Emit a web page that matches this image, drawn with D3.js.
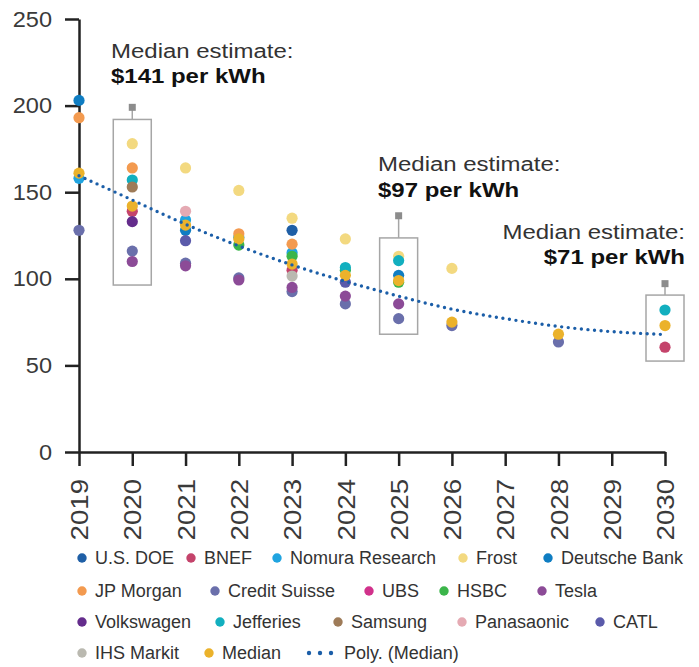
<!DOCTYPE html>
<html>
<head>
<meta charset="utf-8">
<script src="https://cdn.jsdelivr.net/npm/d3@7"></script>
<style>
  body { margin: 0; background: #fff; }
  text { font-family: "Liberation Sans", Arial, sans-serif; }
</style>
</head>
<body>
<div id="chart"></div>
<script>
// 年份和刻度
var years = [2019, 2020, 2021, 2022, 2023, 2024, 2025, 2026, 2027, 2028, 2029, 2030];
var yTicks = [0, 50, 100, 150, 200, 250];

// 各家预测 [年份, $/kWh]
var usDOE = [[2023, 128]];
var bnef = [[2020, 139], [2023, 105], [2030, 60.5]];
var nomura = [[2019, 158], [2021, 134], [2022, 124], [2023, 115]];
var frost = [[2020, 178], [2021, 164], [2022, 151], [2023, 135], [2024, 123], [2025, 113], [2026, 106]];
var deutsche = [[2019, 203], [2021, 128], [2025, 102]];
var jpMorgan = [[2019, 193], [2020, 164], [2022, 126], [2023, 120]];
var creditSuisse = [[2019, 128], [2020, 116], [2021, 109], [2022, 100.5], [2023, 92.6], [2024, 85.5], [2025, 77], [2026, 73], [2028, 63.5]];
var ubs = [];
var hsbc = [[2022, 119.5], [2023, 113], [2024, 105], [2025, 98]];
var tesla = [[2020, 110], [2021, 107.5], [2022, 99.3], [2023, 95], [2024, 90], [2025, 85.5]];
var volkswagen = [[2020, 133]];
var jefferies = [[2020, 157], [2024, 106.5], [2025, 110.5], [2030, 82]];
var samsung = [[2020, 153]];
var panasaonic = [[2021, 139]];
var catl = [[2021, 122], [2024, 98]];
var ihsMarkit = [[2023, 101.6]];
var median = [[2019, 161], [2020, 142], [2021, 131], [2022, 123], [2023, 108.5], [2024, 102], [2025, 99], [2026, 75], [2028, 68], [2030, 73]];
// 多项式趋势线
var polyMedian = [159.5, 145.5, 131.5, 119, 108, 98.5, 90, 82.5, 77, 72.5, 69.5, 67.8];

// 方框标注 (中位数估计)
var boxYears = [2020, 2025, 2030];
var boxLow = [96.4, 68, 52.5];
var boxHigh = [192, 123.6, 90.6];
var whiskerTop = [199, 136.4, 97.2];
var noteValues = ["$141 per kWh", "$97 per kWh", "$71 per kWh"];

var seriesList = [
  { name: "U.S. DOE", color: "#1f5fa6", data: usDOE },
  { name: "BNEF", color: "#c4436b", data: bnef },
  { name: "Nomura Research", color: "#20a4e0", data: nomura },
  { name: "Frost", color: "#f3d980", data: frost },
  { name: "Deutsche Bank", color: "#0f7dc2", data: deutsche },
  { name: "JP Morgan", color: "#f39a4f", data: jpMorgan },
  { name: "Credit Suisse", color: "#6a6fab", data: creditSuisse },
  { name: "UBS", color: "#d1318b", data: ubs },
  { name: "HSBC", color: "#3bb54a", data: hsbc },
  { name: "Tesla", color: "#8c4b97", data: tesla },
  { name: "Volkswagen", color: "#642c8c", data: volkswagen },
  { name: "Jefferies", color: "#12afbf", data: jefferies },
  { name: "Samsung", color: "#9e7b58", data: samsung },
  { name: "Panasaonic", color: "#e5aab3", data: panasaonic },
  { name: "CATL", color: "#5a5aaa", data: catl },
  { name: "IHS Markit", color: "#bab9b0", data: ihsMarkit },
  { name: "Median", color: "#ebb22b", data: median }
];
var polyColor = "#1b5ea8";

var legendRows = [
  ["U.S. DOE", "BNEF", "Nomura Research", "Frost", "Deutsche Bank"],
  ["JP Morgan", "Credit Suisse", "UBS", "HSBC", "Tesla"],
  ["Volkswagen", "Jefferies", "Samsung", "Panasaonic", "CATL"],
  ["IHS Markit", "Median", "Poly. (Median)"]
];
// 图例排版 (像素)
var legendX = [
  [82, 191, 277, 463, 548],
  [82, 215, 369, 444, 542],
  [82, 220, 338, 462, 600],
  [82, 209, 309]
];
var legendY = [558, 591, 622, 653];

var width = 699, height = 667;
var svg = d3.select("#chart").append("svg")
  .attr("width", width)
  .attr("height", height);

var x = d3.scaleLinear().domain([2019, 2030]).range([79, 665]);
var y = d3.scaleLinear().domain([0, 250]).range([452, 19]);

// 方框
var boxes = svg.append("g");
boxYears.forEach(function (yr, i) {
  var cx = x(yr);
  boxes.append("line")
    .attr("x1", cx).attr("x2", cx)
    .attr("y1", y(boxHigh[i])).attr("y2", y(whiskerTop[i]))
    .attr("stroke", "#a6a6a6").attr("stroke-width", 1.5);
  boxes.append("rect")
    .attr("x", cx - 3.5).attr("y", y(whiskerTop[i]) - 3.5)
    .attr("width", 7).attr("height", 7)
    .attr("fill", "#8c8c8c");
  boxes.append("rect")
    .attr("x", cx - 19).attr("y", y(boxHigh[i]))
    .attr("width", 38).attr("height", y(boxLow[i]) - y(boxHigh[i]))
    .attr("fill", "none")
    .attr("stroke", "#a6a6a6").attr("stroke-width", 1.5);
});

// 坐标轴
var xAxis = svg.append("g")
  .attr("transform", "translate(0," + y(0) + ")")
  .call(d3.axisBottom(x).tickValues(years).tickFormat(d3.format("d")).tickSize(14).tickSizeOuter(0));
xAxis.selectAll("text")
  .attr("x", 0).attr("y", 0).attr("dy", "0.36em")
  .attr("transform", "translate(0,27) rotate(-90) scale(1.15,1)")
  .attr("text-anchor", "end")
  .style("font-size", "24px")
  .attr("fill", "#3a3a3a");

var yAxis = svg.append("g")
  .attr("transform", "translate(" + x(2019) + ",0)")
  .call(d3.axisLeft(y).tickValues(yTicks).tickSize(14).tickSizeOuter(0));
yAxis.selectAll("text")
  .attr("x", 0)
  .attr("transform", "translate(-27,0) scale(1.07,1)")
  .style("font-size", "22px")
  .attr("fill", "#3a3a3a");
svg.selectAll(".domain, .tick line").attr("stroke", "#222").attr("stroke-width", 2.5);

// 散点
var dotsG = svg.append("g");
seriesList.forEach(function (s) {
  dotsG.selectAll(null)
    .data(s.data)
    .enter()
    .append("circle")
    .attr("cx", function (d) { return x(d[0]); })
    .attr("cy", function (d) { return y(d[1]); })
    .attr("r", 5.6)
    .attr("fill", s.color);
});

// 趋势线 (点线)
var line = d3.line()
  .x(function (d, i) { return x(years[i]); })
  .y(function (d) { return y(d); })
  .curve(d3.curveNatural);
svg.append("path")
  .datum(polyMedian)
  .attr("d", line)
  .attr("fill", "none")
  .attr("stroke", polyColor)
  .attr("stroke-width", 3.4)
  .attr("stroke-linecap", "round")
  .attr("stroke-dasharray", "0 6.6");

// 标注文字
var notePos = [[111, 57.5, "start"], [378, 171, "start"], [685, 238.5, "end"]];
notePos.forEach(function (p, i) {
  var g = svg.append("g")
    .attr("transform", "translate(" + p[0] + "," + p[1] + ") scale(1.23,1)");
  g.append("text")
    .attr("text-anchor", p[2])
    .style("font-size", "19.5px")
    .attr("fill", "#333")
    .text("Median estimate:");
  g.append("text")
    .attr("y", 26)
    .attr("text-anchor", p[2])
    .style("font-size", "19.5px")
    .style("font-weight", "bold")
    .attr("fill", "#111")
    .text(noteValues[i]);
});

// 图例
var colorOf = {};
seriesList.forEach(function (s) { colorOf[s.name] = s.color; });
legendRows.forEach(function (row, r) {
  row.forEach(function (name, k) {
    var cx = legendX[r][k];
    var g = svg.append("g");
    var tx;
    if (name === "Poly. (Median)") {
      [0, 11, 22].forEach(function (dx) {
        g.append("circle").attr("cx", cx + dx).attr("cy", legendY[r]).attr("r", 2.2).attr("fill", polyColor);
      });
      tx = cx + 35;
    } else {
      g.append("circle").attr("cx", cx).attr("cy", legendY[r]).attr("r", 4.7).attr("fill", colorOf[name]);
      tx = cx + 13;
    }
    g.append("text")
      .attr("x", tx).attr("y", legendY[r]).attr("dy", "0.36em")
      .style("font-size", "18px")
      .attr("fill", "#333")
      .text(name);
  });
});
</script>
</body>
</html>
